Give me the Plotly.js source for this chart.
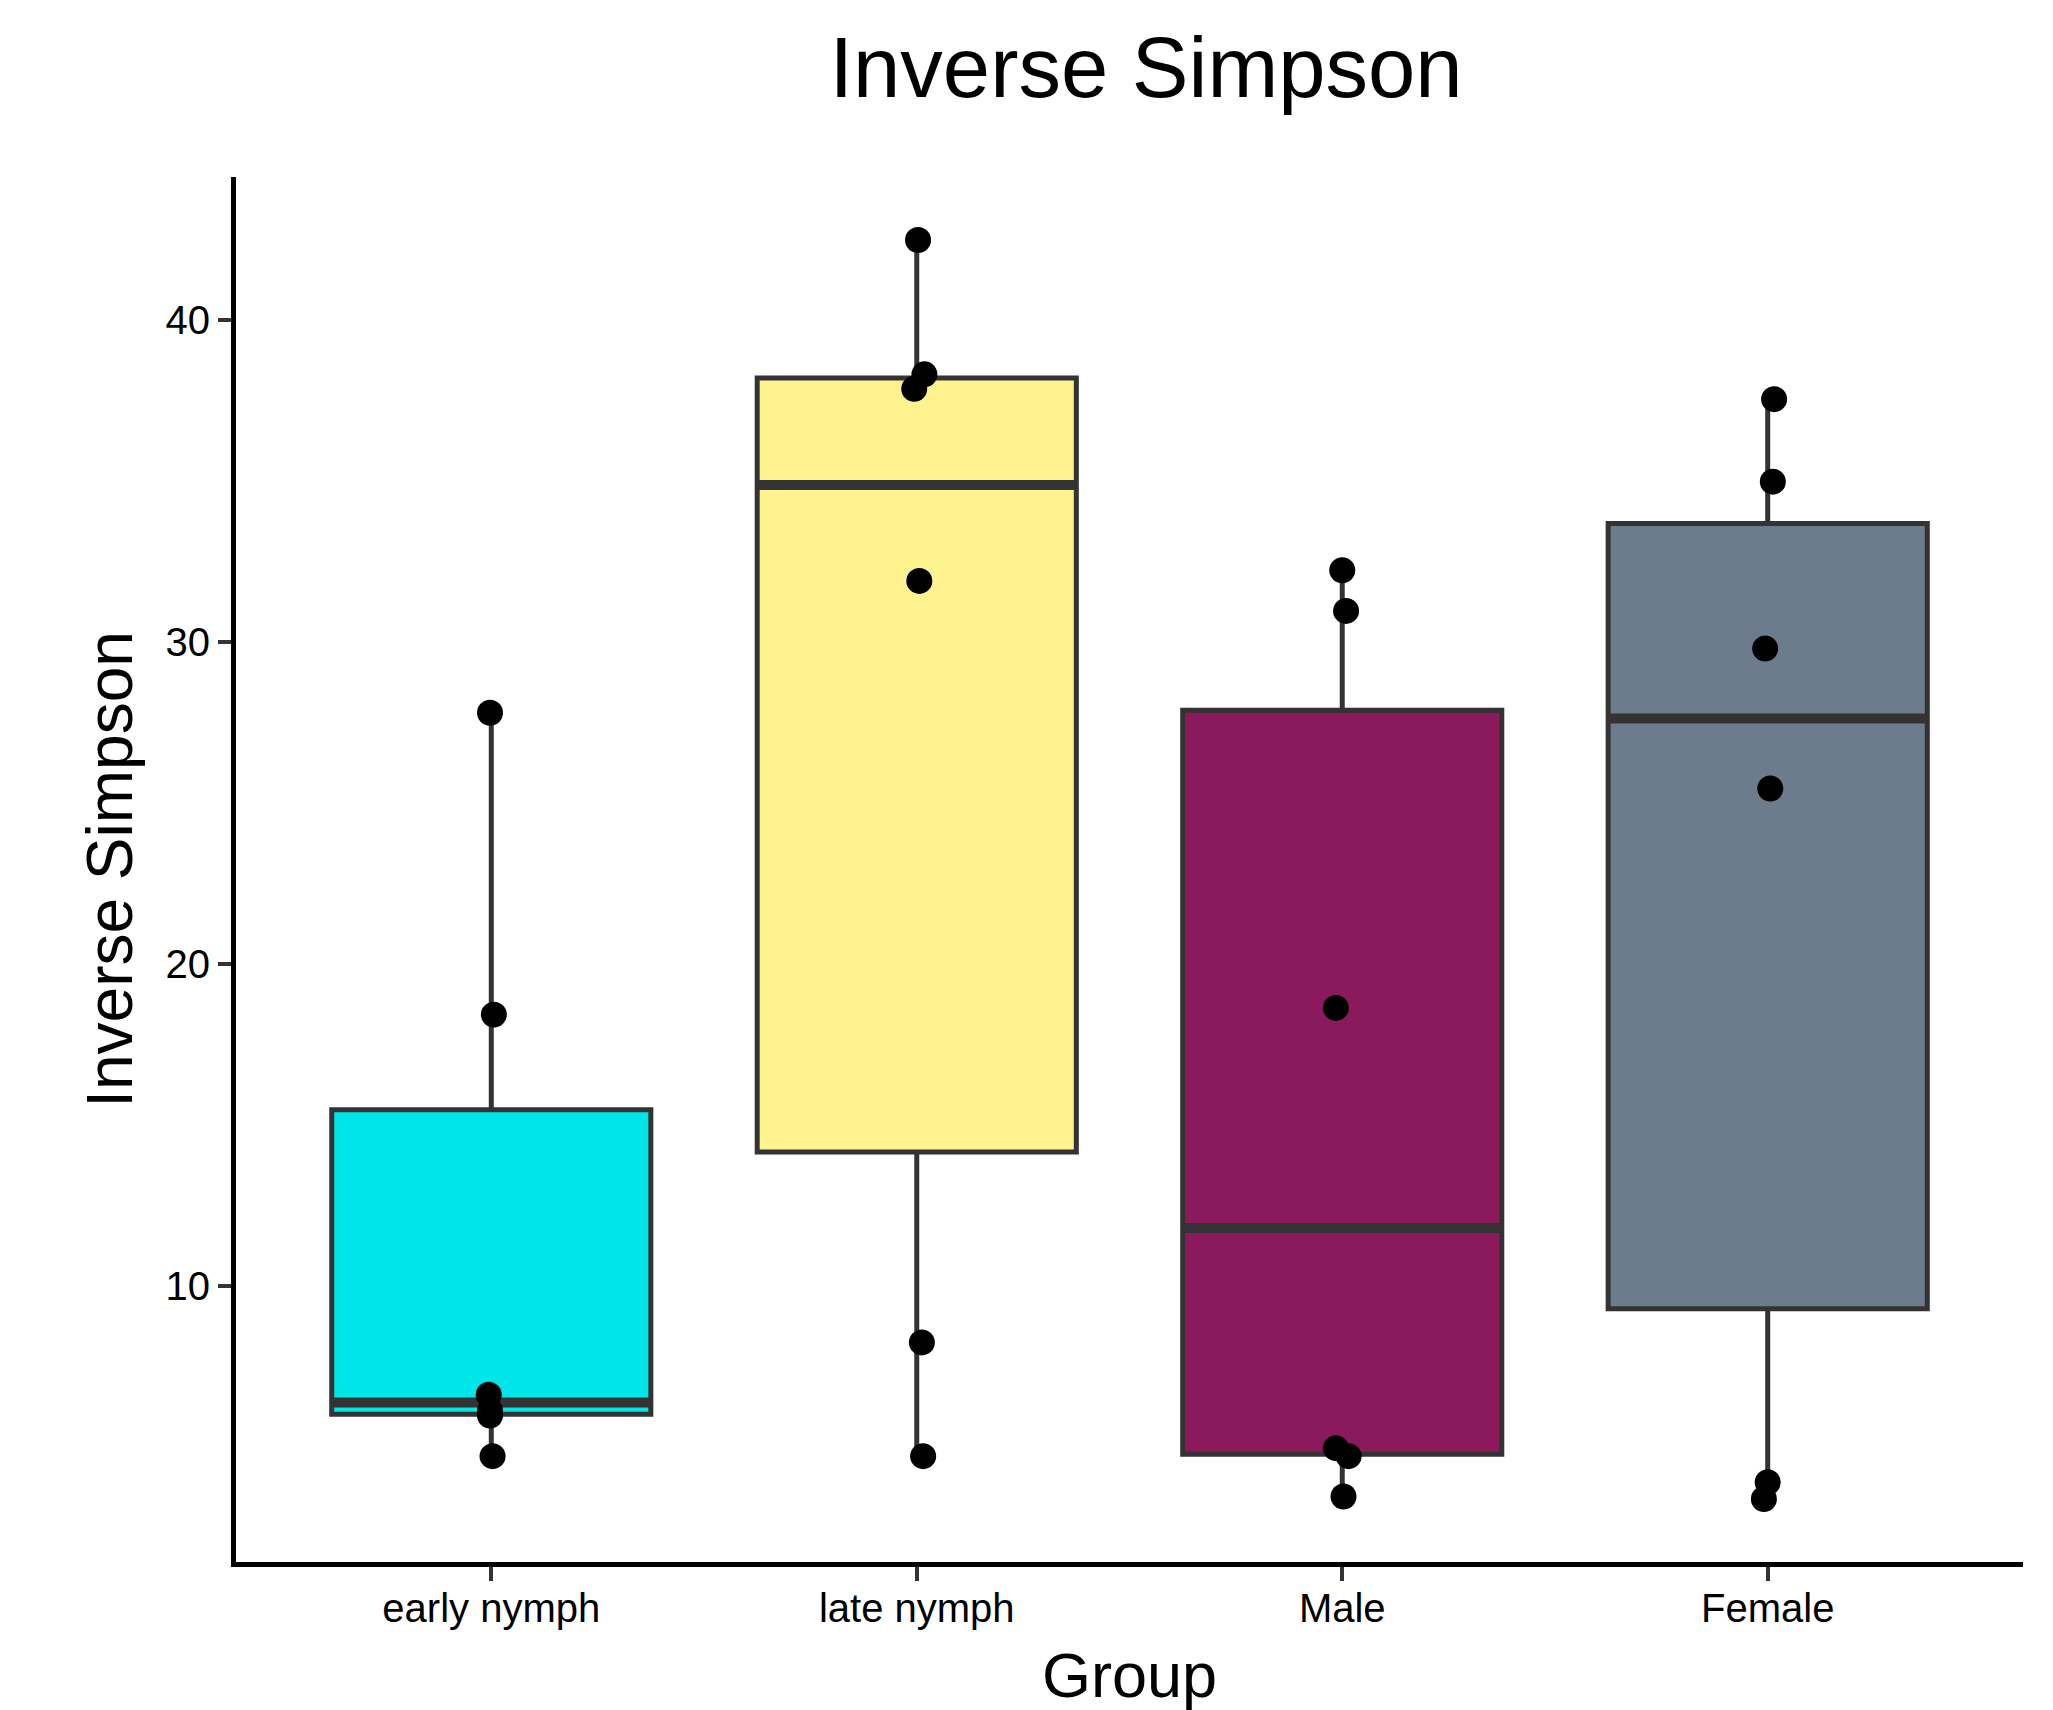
<!DOCTYPE html>
<html><head><meta charset="utf-8">
<script src="https://cdn.plot.ly/plotly-3.0.1.min.js"></script>
<style>html,body{margin:0;padding:0;background:#fff}#chart{width:2053px;height:1710px}</style>
</head><body><div id="chart"></div>
<script>
// ---- data ----
const groups = ["early nymph", "late nymph", "Male", "Female"];
const earlyNymph = [27.80, 18.43, 6.64, 6.15, 5.99, 4.73];
const lateNymph  = [42.47, 38.30, 37.85, 31.89, 8.26, 4.73];
const male       = [32.22, 30.96, 18.64, 4.98, 4.73, 3.48];
const female     = [37.53, 34.97, 29.79, 25.45, 3.92, 3.40];
// horizontal jitter of the points (fraction of category spacing)
const earlyJitter  = [-0.003, 0.006, -0.006, -0.003, -0.003, 0.003];
const lateJitter   = [0.003, 0.018, -0.006, 0.006, 0.012, 0.015];
const maleJitter   = [0.000, 0.009, -0.015, -0.015, 0.015, 0.003];
const femaleJitter = [0.015, 0.012, -0.006, 0.006, 0.000, -0.009];

// ---- styles ----
const fillColors = ["#00E5E8", "#FFF38F", "#8A1A5C", "#6C7C8D"];
const series = [earlyNymph, lateNymph, male, female];
const jitters = [earlyJitter, lateJitter, maleJitter, femaleJitter];
const BOXW = 0.75;
const FONT = "Liberation Sans, Arial, Helvetica, sans-serif";

function quant(arr, p) {
  const s = [...arr].sort((a, b) => a - b);
  const h = (s.length - 1) * p, lo = Math.floor(h), hi = Math.ceil(h);
  return s[lo] + (h - lo) * (s[hi] - s[lo]);
}

const traces = [];
const medianTraces = [];
const pointX = [], pointY = [];
series.forEach((vals, i) => {
  const pos = i + 1;
  const q1 = quant(vals, 0.25), med = quant(vals, 0.5), q3 = quant(vals, 0.75);
  const iqr = q3 - q1;
  const upper = Math.max(...vals.filter(v => v <= q3 + 1.5 * iqr));
  const lower = Math.min(...vals.filter(v => v >= q1 - 1.5 * iqr));
  traces.push({
    type: "box", x: [pos], q1: [q1], median: [med], q3: [q3],
    lowerfence: [lower], upperfence: [upper],
    width: BOXW, whiskerwidth: 0, boxpoints: false,
    fillcolor: fillColors[i], line: {color: "#333333", width: 5},
    hoverinfo: "skip", showlegend: false
  });
  medianTraces.push({
    type: "scatter", mode: "lines",
    x: [pos - BOXW / 2, pos + BOXW / 2], y: [med, med],
    line: {color: "#333333", width: 10}, hoverinfo: "skip", showlegend: false
  });
  vals.forEach((v, k) => { pointX.push(pos + jitters[i][k]); pointY.push(v); });
});

const pointsTrace = {
  type: "scatter", mode: "markers", x: pointX, y: pointY,
  marker: {color: "#000000", size: 26}, hoverinfo: "skip", showlegend: false
};

const allVals = series.flat();
const mn = Math.min(...allVals), mx = Math.max(...allVals);
const pad = (mx - mn) * 0.05;

const layout = {
  width: 2053, height: 1710,
  paper_bgcolor: "#ffffff", plot_bgcolor: "#ffffff",
  margin: {l: 236, r: 30, t: 177, b: 148},
  font: {family: FONT, color: "#000000"},
  boxmode: "overlay",
  title: {
    text: "Inverse Simpson", font: {family: FONT, size: 85, color: "#000000"},
    x: 1146 / 2053, xref: "container", xanchor: "center",
    y: 1 - 97 / 1710, yref: "container", yanchor: "bottom"
  },
  xaxis: {
    range: [0.4, 4.6], tickvals: [1, 2, 3, 4], ticktext: groups,
    showline: true, linecolor: "#000000", linewidth: 5,
    ticks: "outside", ticklen: 14, tickwidth: 4, tickcolor: "#333333",
    ticklabelstandoff: -7,
    tickfont: {family: FONT, size: 40, color: "#000000"},
    showgrid: false, zeroline: false,
    title: {text: "Group", font: {family: FONT, size: 63, color: "#000000"}, standoff: 25}
  },
  yaxis: {
    range: [mn - pad, mx + pad], tickvals: [10, 20, 30, 40],
    showline: true, linecolor: "#000000", linewidth: 5,
    ticks: "outside", ticklen: 13, tickwidth: 4, tickcolor: "#333333",
    tickfont: {family: FONT, size: 40, color: "#000000"},
    showgrid: false, zeroline: false,
    title: {text: "Inverse Simpson", font: {family: FONT, size: 64, color: "#000000"}, standoff: 14}
  }
};

Plotly.newPlot("chart", [...traces, ...medianTraces, pointsTrace], layout, {displayModeBar: false, staticPlot: true});
</script>
</body></html>
